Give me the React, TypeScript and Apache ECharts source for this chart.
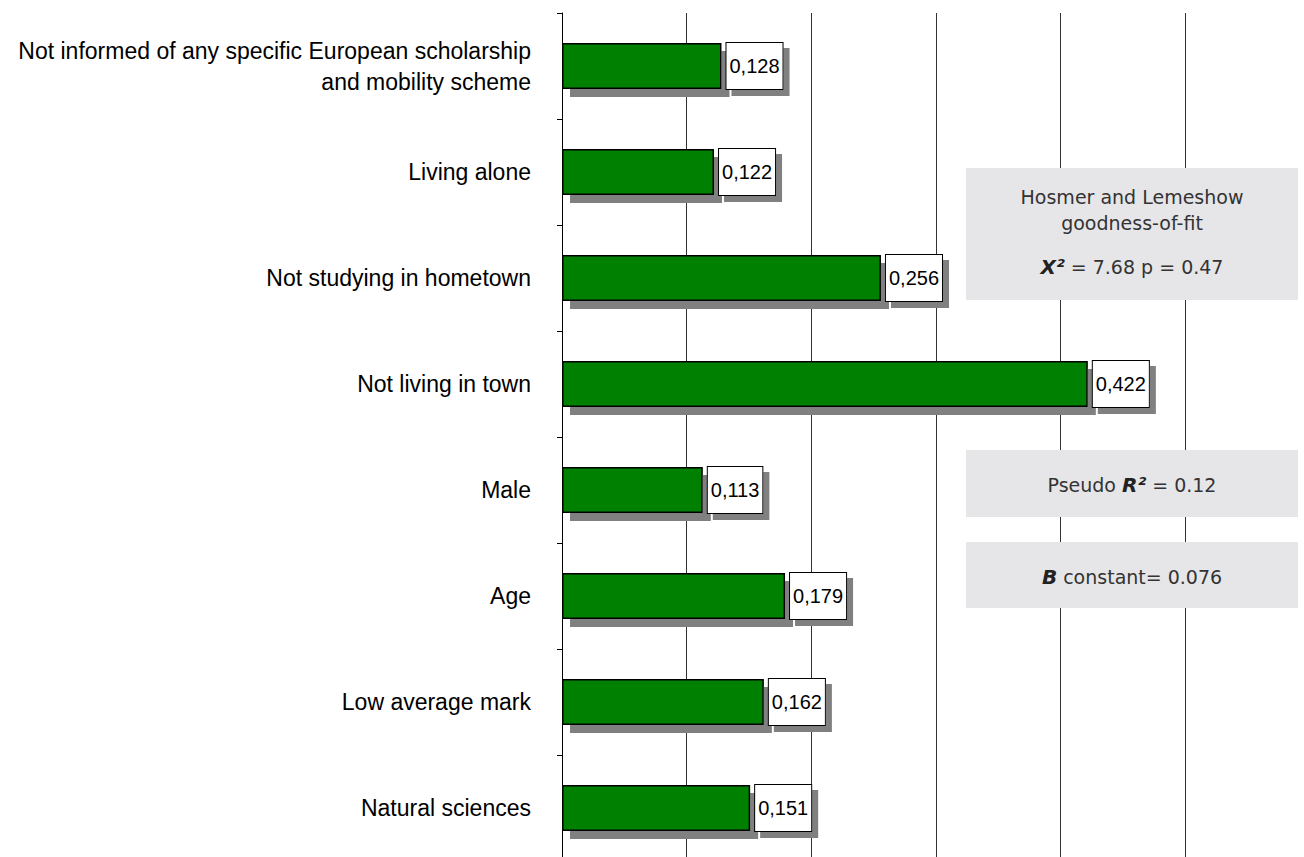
import React, { useEffect, useRef } from "react";
import * as echarts from "echarts";

const categories = [
  "Not informed of any specific European scholarship\nand mobility scheme",
  "Living alone",
  "Not studying in hometown",
  "Not living in town",
  "Male",
  "Age",
  "Low average mark",
  "Natural sciences",
];
const values = [0.128, 0.122, 0.256, 0.422, 0.113, 0.179, 0.162, 0.151];

const statBox1Lines = ["Hosmer and Lemeshow", "goodness-of-fit"];
const statBox1Formula = { symbol: "X²", rest: " = 7.68 p = 0.47" };
const statBox2 = { prefix: "Pseudo ", symbol: "R²", rest: " = 0.12" };
const statBox3 = { symbol: "B", rest: " constant= 0.076" };

const BOX_FONT = "'DejaVu Sans', Verdana, sans-serif";
const LABEL_FONT = "'Liberation Sans', Arial, sans-serif";

export default function App() {
  const ref = useRef<HTMLDivElement>(null);
  useEffect(() => {
    if (!ref.current) return;
    const chart = echarts.init(ref.current, undefined, { renderer: "svg" });
    const boxX = 966;
    const boxW = 332;
    const cx = boxX + boxW / 2;
    const txt = { fontSize: 19, fontFamily: BOX_FONT, fill: "#333" };
    const bold = { fontSize: 20, fontFamily: BOX_FONT, fontWeight: "bold", fontStyle: "italic", fill: "#222" };
    const norm = { fontSize: 19, fontFamily: BOX_FONT, fill: "#333" };
    chart.setOption({
      animation: false,
      grid: { left: 562, right: 119, top: 13, bottom: 0 },
      xAxis: {
        type: "value",
        min: 0,
        max: 0.5,
        interval: 0.1,
        axisLine: { show: false },
        axisTick: { show: false },
        axisLabel: { show: false },
        splitLine: { show: true, lineStyle: { color: "#333", width: 1 } },
      },
      yAxis: {
        type: "category",
        data: categories,
        inverse: true,
        axisLine: { show: true, lineStyle: { color: "#000", width: 1 } },
        axisTick: { show: true, length: 5, lineStyle: { color: "#000" } },
        axisLabel: {
          color: "#000",
          fontSize: 23,
          fontFamily: LABEL_FONT,
          margin: 31,
          lineHeight: 31,
          align: "right",
        },
        splitLine: { show: false },
      },
      series: [
        {
          type: "bar",
          data: values,
          barWidth: 46,
          itemStyle: {
            color: "#008000",
            borderColor: "#000",
            borderWidth: 1.5,
            shadowColor: "#808080",
            shadowOffsetX: 8,
            shadowOffsetY: 8,
            shadowBlur: 0,
          },
          label: {
            show: true,
            position: "right",
            distance: 5,
            formatter: (p: any) => p.value.toFixed(3).replace(".", ","),
            color: "#000",
            fontSize: 20,
            fontFamily: LABEL_FONT,
            backgroundColor: "#fff",
            borderColor: "#000",
            borderWidth: 1,
            padding: [13, 3, 13, 3],
            shadowColor: "#808080",
            shadowOffsetX: 6,
            shadowOffsetY: 6,
            shadowBlur: 0,
          },
        },
      ],
      graphic: [
        { type: "rect", shape: { x: boxX, y: 168, width: boxW, height: 132 }, style: { fill: "#e6e6e8" }, z: 100 },
        { type: "text", x: cx, y: 197, z: 101, style: { ...txt, text: statBox1Lines[0], align: "center", verticalAlign: "middle" } },
        { type: "text", x: cx, y: 223, z: 101, style: { ...txt, text: statBox1Lines[1], align: "center", verticalAlign: "middle" } },
        {
          type: "text", x: cx, y: 267, z: 101,
          style: {
            ...txt,
            text: `{b|${statBox1Formula.symbol}}{n|${statBox1Formula.rest}}`,
            rich: { b: bold, n: norm },
            align: "center", verticalAlign: "middle",
          },
        },
        { type: "rect", shape: { x: boxX, y: 450, width: boxW, height: 67 }, style: { fill: "#e6e6e8" }, z: 100 },
        {
          type: "text", x: cx, y: 485, z: 101,
          style: {
            ...txt,
            text: `{n|${statBox2.prefix}}{b|${statBox2.symbol}}{n|${statBox2.rest}}`,
            rich: { b: bold, n: norm },
            align: "center", verticalAlign: "middle",
          },
        },
        { type: "rect", shape: { x: boxX, y: 542, width: boxW, height: 66 }, style: { fill: "#e6e6e8" }, z: 100 },
        {
          type: "text", x: cx, y: 577, z: 101,
          style: {
            ...txt,
            text: `{b|${statBox3.symbol}}{n|${statBox3.rest}}`,
            rich: { b: bold, n: norm },
            align: "center", verticalAlign: "middle",
          },
        },
      ],
    });
    return () => chart.dispose();
  }, []);
  return (
    <div style={{ position: "absolute", left: 0, top: 0, width: 1304, height: 857, overflow: "hidden", background: "#fff" }}>
      <div ref={ref} style={{ width: 1304, height: 861 }} />
    </div>
  );
}
